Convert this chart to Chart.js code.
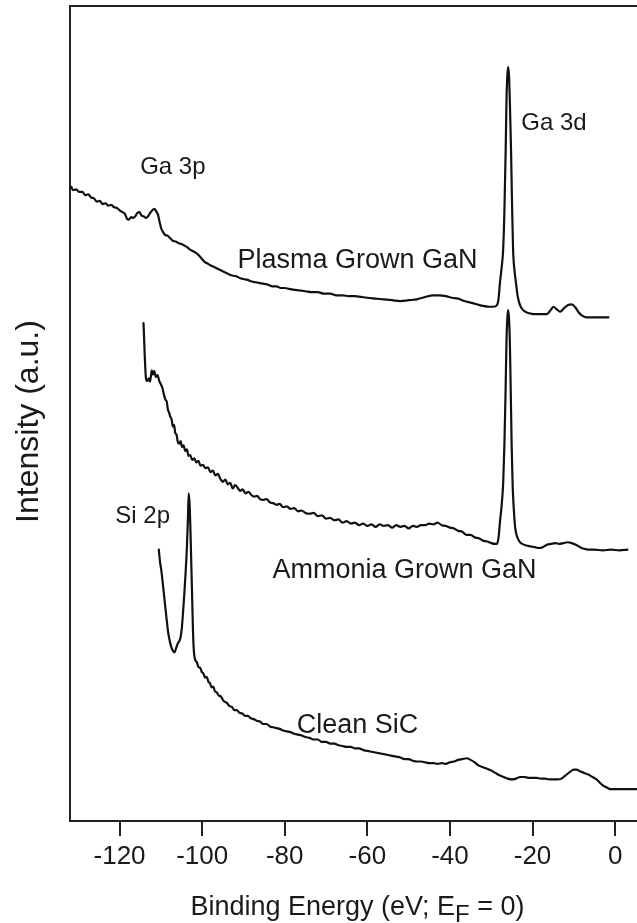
<!DOCTYPE html>
<html>
<head>
<meta charset="utf-8">
<title>Valence band and shallow core level spectra</title>
<script src="https://cdn.jsdelivr.net/npm/chart.js@4.4.1/dist/chart.umd.min.js"></script>
<style>
  html, body { margin: 0; padding: 0; background: #ffffff; overflow: hidden; }
  canvas { display: block; }
</style>
</head>
<body>
<canvas id="xps" width="637" height="923"></canvas>
<script>
// Binding-energy tick values (eV, E_F = 0)
const energyTicks = [-120, -100, -80, -60, -40, -20, 0];

// Spectra as [binding energy (eV), intensity (a.u.)], offset vertically per sample
const plasmaGaN = [
  [-131.7, 77.8], [-131.2, 77.4], [-130.5, 77.5], [-129.8, 77.2], [-129.0, 77.2],
  [-128.3, 76.8], [-127.6, 76.9], [-126.9, 76.5], [-126.2, 76.4], [-125.5, 76.0],
  [-124.8, 76.1], [-124.1, 75.7], [-123.4, 75.8], [-122.7, 75.5], [-122.0, 75.6],
  [-121.3, 75.3], [-120.6, 75.2], [-119.9, 74.9], [-119.3, 74.7], [-118.7, 74.5],
  [-118.2, 73.9], [-117.7, 73.8], [-117.2, 74.1], [-116.7, 74.0], [-116.2, 74.2],
  [-115.7, 74.6], [-115.2, 74.7], [-114.7, 74.3], [-114.2, 74.2], [-113.6, 74.0],
  [-113.1, 74.2], [-112.6, 74.6], [-112.1, 74.9], [-111.6, 75.1], [-111.1, 74.8],
  [-110.7, 74.4], [-110.3, 73.5], [-109.9, 72.7], [-109.4, 72.2], [-108.9, 71.9],
  [-108.3, 71.8], [-107.7, 71.5], [-107.1, 71.2], [-106.4, 71.1], [-105.7, 70.9],
  [-105.0, 70.8], [-104.3, 70.6], [-103.6, 70.4], [-102.9, 70.1], [-102.2, 69.9],
  [-101.5, 69.7], [-100.8, 69.4], [-100.1, 69.0], [-99.4, 68.6], [-98.7, 68.4],
  [-98.0, 68.2], [-97.2, 68.0], [-96.4, 67.8], [-95.6, 67.6], [-94.8, 67.4],
  [-94.0, 67.2], [-93.2, 67.0], [-92.4, 66.9], [-91.6, 66.8], [-90.8, 66.6],
  [-90.0, 66.5], [-89.0, 66.4], [-88.0, 66.2], [-87.0, 66.1], [-86.0, 66.0],
  [-85.0, 65.9], [-84.0, 65.8], [-83.0, 65.6], [-82.0, 65.6], [-81.0, 65.4],
  [-80.0, 65.4], [-79.0, 65.3], [-78.0, 65.2], [-76.5, 65.1], [-75.0, 65.0],
  [-73.5, 64.9], [-72.0, 64.9], [-70.5, 64.7], [-69.0, 64.7], [-67.5, 64.5],
  [-66.0, 64.5], [-64.5, 64.4], [-63.0, 64.4], [-61.5, 64.3], [-60.0, 64.2],
  [-58.0, 64.1], [-56.0, 64.0], [-54.0, 63.9], [-52.0, 63.8], [-50.0, 63.9],
  [-48.0, 64.0], [-46.0, 64.3], [-44.0, 64.5], [-42.5, 64.5], [-41.0, 64.4],
  [-39.5, 64.2], [-38.0, 64.1], [-36.5, 63.8], [-35.0, 63.6], [-33.5, 63.4],
  [-32.0, 63.2], [-30.5, 63.1], [-29.5, 63.1], [-28.6, 63.3], [-28.2, 64.2],
  [-27.9, 66.0], [-27.5, 67.8], [-27.1, 70.2], [-26.8, 75.0], [-26.5, 82.3],
  [-26.3, 88.5], [-26.1, 91.5], [-25.9, 92.5], [-25.7, 91.5], [-25.5, 88.5],
  [-25.2, 82.3], [-24.95, 75.5], [-24.7, 70.0], [-24.35, 67.5], [-24.0, 66.0],
  [-23.6, 64.4], [-23.1, 63.4], [-22.5, 62.8], [-21.8, 62.5], [-20.8, 62.3],
  [-19.7, 62.2], [-18.0, 62.2], [-16.5, 62.2], [-15.6, 62.7], [-14.9, 63.1],
  [-14.2, 62.8], [-13.3, 62.5], [-12.4, 62.9], [-11.4, 63.3], [-10.5, 63.4],
  [-9.6, 63.0], [-8.8, 62.4], [-8.0, 62.0], [-7.0, 61.8], [-5.0, 61.8],
  [-1.6, 61.8]
];

const ammoniaGaN = [
  [-114.2, 61.1], [-113.6, 54.3], [-113.3, 54.0], [-112.9, 54.3], [-112.6, 53.9],
  [-112.2, 55.3], [-111.9, 54.8], [-111.6, 55.2], [-111.2, 54.5], [-110.8, 54.7],
  [-110.4, 54.0], [-110.0, 53.6], [-109.6, 53.1], [-109.2, 52.2], [-108.9, 51.7],
  [-108.6, 51.5], [-108.3, 50.5], [-108.0, 50.1], [-107.7, 49.6], [-107.4, 49.3],
  [-107.1, 48.4], [-106.8, 48.6], [-106.5, 47.6], [-106.2, 47.4], [-105.9, 46.5],
  [-105.6, 46.3], [-105.2, 46.6], [-104.9, 45.9], [-104.5, 46.1], [-104.1, 45.4],
  [-103.7, 45.6], [-103.3, 44.8], [-102.9, 44.9], [-102.4, 44.3], [-101.9, 44.5],
  [-101.4, 44.0], [-100.9, 44.2], [-100.4, 43.6], [-99.8, 43.7], [-99.2, 43.3],
  [-98.6, 43.4], [-98.0, 42.8], [-97.4, 43.0], [-96.8, 42.4], [-96.2, 42.6],
  [-95.6, 42.0], [-95.0, 41.6], [-94.4, 41.9], [-93.8, 41.3], [-93.2, 41.5],
  [-92.6, 40.8], [-92.0, 41.2], [-91.4, 40.9], [-90.8, 40.5], [-90.2, 40.7],
  [-89.5, 40.2], [-88.8, 40.4], [-88.1, 40.0], [-87.4, 39.8], [-86.7, 39.9],
  [-86.0, 39.5], [-85.2, 39.4], [-84.4, 39.5], [-83.6, 39.1], [-82.8, 39.0],
  [-82.0, 38.8], [-81.2, 38.9], [-80.4, 38.5], [-79.5, 38.6], [-78.6, 38.3],
  [-77.7, 38.4], [-76.8, 38.0], [-75.9, 38.1], [-75.0, 37.8], [-74.0, 37.7],
  [-73.0, 37.8], [-72.0, 37.4], [-71.0, 37.5], [-70.0, 37.1], [-69.0, 37.2],
  [-68.0, 36.9], [-67.0, 37.0], [-66.0, 36.6], [-65.0, 36.8], [-64.0, 36.5],
  [-63.0, 36.6], [-62.0, 36.3], [-61.0, 36.5], [-60.0, 36.2], [-59.0, 36.4],
  [-58.0, 36.1], [-57.0, 36.4], [-56.0, 36.2], [-55.0, 36.3], [-54.0, 36.0],
  [-53.0, 36.3], [-52.0, 36.1], [-51.0, 36.2], [-50.0, 35.9], [-49.0, 36.2],
  [-48.0, 36.1], [-47.0, 36.3], [-46.0, 36.3], [-45.0, 36.5], [-44.0, 36.4],
  [-43.0, 36.6], [-42.0, 36.3], [-41.0, 36.2], [-40.0, 36.0], [-39.0, 35.9],
  [-38.0, 35.6], [-37.0, 35.5], [-36.0, 35.1], [-35.0, 35.1], [-34.0, 34.8],
  [-33.0, 34.7], [-32.0, 34.4], [-31.0, 34.3], [-30.0, 34.1], [-29.0, 34.0],
  [-28.6, 34.0], [-28.2, 34.9], [-27.9, 36.6], [-27.5, 38.6], [-27.1, 41.5],
  [-26.8, 46.3], [-26.5, 53.3], [-26.3, 59.0], [-26.1, 61.7], [-25.9, 62.7],
  [-25.7, 61.7], [-25.5, 59.0], [-25.3, 53.5], [-25.05, 46.0], [-24.8, 41.0],
  [-24.5, 38.0], [-24.2, 36.0], [-23.8, 35.0], [-23.2, 34.3], [-22.5, 34.0],
  [-21.5, 33.8], [-20.5, 33.7], [-19.5, 33.6], [-18.5, 33.5], [-17.5, 33.6],
  [-16.5, 33.9], [-15.5, 34.0], [-14.5, 34.1], [-13.5, 34.0], [-12.5, 34.1],
  [-11.5, 34.2], [-10.5, 34.1], [-9.5, 33.9], [-8.5, 33.6], [-7.5, 33.4],
  [-6.5, 33.3], [-5.0, 33.3], [-3.0, 33.2], [-1.0, 33.3], [1.0, 33.2],
  [3.0, 33.3]
];

const cleanSiC = [
  [-110.5, 33.3], [-110.2, 31.8], [-109.9, 30.8], [-109.5, 29.0], [-109.1, 27.1],
  [-108.7, 25.2], [-108.3, 23.4], [-107.9, 22.2], [-107.5, 21.4], [-107.1, 20.9],
  [-106.7, 20.7], [-106.3, 21.2], [-105.9, 21.8], [-105.5, 22.1], [-105.2, 22.6],
  [-104.9, 23.8], [-104.6, 25.8], [-104.3, 28.0], [-104.0, 30.5], [-103.7, 33.5],
  [-103.45, 37.0], [-103.25, 40.2], [-103.0, 38.5], [-102.8, 35.0], [-102.6, 31.0],
  [-102.4, 27.0], [-102.2, 23.0], [-102.0, 20.8], [-101.7, 19.8], [-101.3, 19.5],
  [-100.9, 18.9], [-100.5, 18.8], [-100.1, 18.3], [-99.7, 18.1], [-99.3, 17.6],
  [-98.9, 17.7], [-98.5, 17.1], [-98.1, 16.9], [-97.7, 16.4], [-97.3, 16.5],
  [-96.9, 15.9], [-96.5, 15.8], [-96.0, 15.4], [-95.5, 15.3], [-95.0, 14.9],
  [-94.5, 14.6], [-94.0, 14.5], [-93.4, 14.1], [-92.8, 14.0], [-92.2, 13.6],
  [-91.6, 13.6], [-91.0, 13.3], [-90.3, 13.2], [-89.6, 12.9], [-88.9, 12.9],
  [-88.2, 12.6], [-87.5, 12.5], [-86.8, 12.3], [-86.0, 12.2], [-85.2, 11.9],
  [-84.4, 11.9], [-83.6, 11.6], [-82.8, 11.5], [-82.0, 11.4], [-81.2, 11.3],
  [-80.4, 11.1], [-79.5, 11.0], [-78.6, 10.9], [-77.7, 10.7], [-76.8, 10.6],
  [-75.9, 10.5], [-75.0, 10.3], [-74.0, 10.2], [-73.0, 10.0], [-72.0, 10.0],
  [-71.0, 9.7], [-70.0, 9.7], [-69.0, 9.5], [-68.0, 9.5], [-67.0, 9.3],
  [-66.0, 9.2], [-65.0, 9.1], [-64.0, 9.1], [-63.0, 8.9], [-62.0, 8.9],
  [-61.0, 8.7], [-60.0, 8.6], [-59.0, 8.5], [-58.0, 8.4], [-57.0, 8.3],
  [-56.0, 8.2], [-55.0, 8.1], [-54.0, 8.0], [-53.0, 7.9], [-52.0, 7.8],
  [-51.0, 7.6], [-50.0, 7.6], [-49.0, 7.4], [-48.0, 7.3], [-47.0, 7.3],
  [-46.0, 7.2], [-45.0, 7.1], [-44.0, 7.1], [-43.0, 7.0], [-42.0, 7.1],
  [-41.0, 7.0], [-40.0, 7.2], [-39.0, 7.3], [-38.0, 7.5], [-37.0, 7.6],
  [-36.0, 7.7], [-35.0, 7.5], [-34.0, 7.2], [-33.0, 6.8], [-32.0, 6.6],
  [-31.0, 6.4], [-30.0, 6.2], [-29.0, 5.9], [-28.0, 5.6], [-27.0, 5.4],
  [-26.0, 5.2], [-25.0, 5.1], [-24.0, 5.2], [-23.0, 5.4], [-22.0, 5.4],
  [-21.0, 5.3], [-20.0, 5.3], [-19.0, 5.3], [-18.0, 5.2], [-17.0, 5.2],
  [-16.0, 5.1], [-15.0, 5.1], [-14.0, 5.1], [-13.0, 5.2], [-12.0, 5.6],
  [-11.0, 6.0], [-10.0, 6.3], [-9.3, 6.3], [-8.5, 6.1], [-7.5, 5.9],
  [-6.5, 5.7], [-5.5, 5.4], [-4.5, 5.1], [-3.5, 4.6], [-2.8, 4.3],
  [-2.0, 4.1], [-1.0, 3.9], [0.0, 3.9], [5.4, 3.9]
];

// Core-level and sample annotations, anchored in data units (centre x, text baseline y)
const peakLabels = [
  { text: 'Ga 3p', energy: -107.1, intensity: 79.4 },
  { text: 'Ga 3d', energy: -14.8, intensity: 84.8 },
  { text: 'Si 2p', energy: -114.4, intensity: 36.6 }
];
const sampleLabels = [
  { text: 'Plasma Grown GaN', energy: -62.4, intensity: 67.9 },
  { text: 'Ammonia Grown GaN', energy: -51.0, intensity: 29.8 },
  { text: 'Clean SiC', energy: -62.4, intensity: 10.8 }
];

const FONT = '"Liberation Sans", Arial, Helvetica, sans-serif';
const INK = '#1a1a1a';
const AXIS = '#222222';

const toPoints = rows => rows.map(([e, i]) => ({ x: e, y: i }));

const spectrumLine = (label, rows) => ({
  label,
  data: toPoints(rows),
  showLine: true,
  borderColor: '#111111',
  borderWidth: 2.2,
  pointRadius: 0,
  cubicInterpolationMode: 'monotone',
  borderJoinStyle: 'round',
  borderCapStyle: 'round'
});

// Annotations and the axis titles (x title carries a subscript F)
const annotationPlugin = {
  id: 'spectrumAnnotations',
  afterDraw(chart) {
    const { ctx, chartArea, scales: { x, y } } = chart;
    ctx.save();
    ctx.fillStyle = INK;
    ctx.textAlign = 'center';
    ctx.textBaseline = 'alphabetic';

    ctx.font = '24px ' + FONT;
    peakLabels.forEach(l => {
      ctx.fillText(l.text, x.getPixelForValue(l.energy), y.getPixelForValue(l.intensity));
    });

    ctx.font = '27px ' + FONT;
    sampleLabels.forEach(l => {
      ctx.fillText(l.text, x.getPixelForValue(l.energy), y.getPixelForValue(l.intensity));
    });

    // Vertical "Intensity (a.u.)"
    ctx.save();
    ctx.translate(26, (chartArea.top + chartArea.bottom) / 2 + 8);
    ctx.rotate(-Math.PI / 2);
    ctx.font = '32px ' + FONT;
    ctx.textAlign = 'center';
    ctx.fillText('Intensity (a.u.)', 0, 11.5);
    ctx.restore();

    // "Binding Energy (eV; E_F = 0)"
    const mainFont = '27px ' + FONT;
    const subFont = '24px ' + FONT;
    const parts = [
      { t: 'Binding Energy (eV; E', f: mainFont, dy: 0 },
      { t: 'F', f: subFont, dy: 7 },
      { t: ' = 0)', f: mainFont, dy: 0 }
    ];
    let total = 0;
    parts.forEach(p => { ctx.font = p.f; p.w = ctx.measureText(p.t).width; total += p.w; });
    const cx = (chartArea.left + chartArea.right) / 2 + 4;
    const baseY = chart.height - 8;
    let px = cx - total / 2;
    ctx.textAlign = 'left';
    parts.forEach(p => {
      ctx.font = p.f;
      ctx.fillText(p.t, px, baseY + p.dy);
      px += p.w;
    });
    ctx.restore();
  }
};

new Chart(document.getElementById('xps'), {
  type: 'scatter',
  data: {
    datasets: [
      spectrumLine('Plasma Grown GaN', plasmaGaN),
      spectrumLine('Ammonia Grown GaN', ammoniaGaN),
      spectrumLine('Clean SiC', cleanSiC)
    ]
  },
  options: {
    responsive: false,
    animation: false,
    devicePixelRatio: 1,
    layout: { padding: { top: 6, right: 0, bottom: 0, left: 0 } },
    plugins: {
      legend: { display: false },
      tooltip: { enabled: false }
    },
    scales: {
      x: {
        type: 'linear',
        position: 'bottom',
        min: -132,
        max: 5.3,
        afterBuildTicks: scale => { scale.ticks = energyTicks.map(v => ({ value: v })); },
        afterFit: scale => { scale.height = 102; },
        grid: {
          display: true,
          drawOnChartArea: false,
          drawTicks: true,
          tickLength: 15,
          tickWidth: 2,
          tickColor: AXIS,
          color: AXIS,
          lineWidth: 2
        },
        border: { display: true, width: 2, color: AXIS },
        ticks: {
          color: INK,
          font: { family: FONT, size: 26 },
          padding: 5,
          maxRotation: 0,
          autoSkip: false,
          callback: v => String(v)
        }
      },
      xTop: {
        type: 'linear',
        position: 'top',
        min: -132,
        max: 5.3,
        afterFit: scale => { scale.height = 0; },
        ticks: { display: false },
        grid: { display: false, drawTicks: false },
        border: { display: true, width: 2, color: AXIS }
      },
      y: {
        type: 'linear',
        min: 0,
        max: 100,
        afterFit: scale => { scale.width = 70; },
        ticks: { display: false },
        grid: { display: false, drawTicks: false },
        border: { display: true, width: 2, color: AXIS }
      }
    }
  },
  plugins: [annotationPlugin]
});
</script>
</body>
</html>
